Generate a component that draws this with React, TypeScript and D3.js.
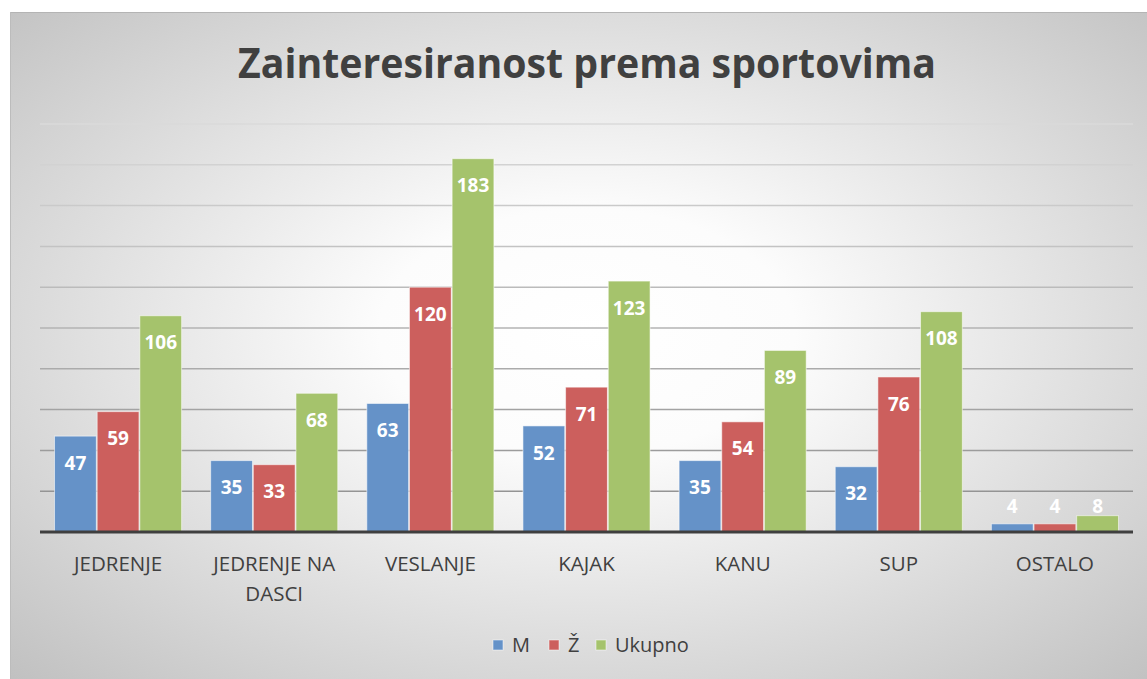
import React from "react";
import * as d3 from "d3";

// podaci
const categories = ["JEDRENJE", "JEDRENJE NA DASCI", "VESLANJE", "KAJAK", "KANU", "SUP", "OSTALO"];
const seriesNames = ["M", "Ž", "Ukupno"];
const valuesM = [47, 35, 63, 52, 35, 32, 4];
const valuesZ = [59, 33, 120, 71, 54, 76, 4];
const valuesUkupno = [106, 68, 183, 123, 89, 108, 8];
const yTicks = [0, 20, 40, 60, 80, 100, 120, 140, 160, 180, 200];

const colors = ["#6592c8", "#cc5f5d", "#a5c36c"];
const W = 1147;
const H = 679;
const font = "'Open Sans', 'DejaVu Sans', sans-serif";

const wrapLabel = (s: string) => {
  if (s.length <= 12) return [s];
  const i = s.lastIndexOf(" ");
  return [s.slice(0, i), s.slice(i + 1)];
};

const App = () => {
  const series = [valuesM, valuesZ, valuesUkupno];
  const x0 = d3.scaleBand<string>().domain(categories).range([40, 1133]).padding(0);
  const bw = x0.bandwidth();
  const x1 = d3
    .scaleBand<string>()
    .domain(seriesNames)
    .range([bw * 0.093, bw * 0.907])
    .paddingInner(0.02);
  const y = d3.scaleLinear().domain([0, 200]).range([532, 124]);
  const gridColor = d3.scaleLinear<string>().domain([200, 0]).range(["#dadada", "#8c8c8c"]);

  const legendX = [493, 549, 596];

  return (
    <svg width={W} height={H} style={{ position: "absolute", left: 0, top: 0 }} fontFamily={font}>
      <defs>
        <radialGradient id="bg" cx="0.5" cy="0.47" r="0.72">
          <stop offset="0" stopColor="#ffffff" />
          <stop offset="0.25" stopColor="#fcfcfc" />
          <stop offset="1" stopColor="#c0c0c0" />
        </radialGradient>
      </defs>
      <rect x={0} y={0} width={W} height={H} fill="#ffffff" />
      <rect x={10} y={12} width={1154} height={680} fill="url(#bg)" />
      <line x1={10} x2={W} y1={12.5} y2={12.5} stroke="#b4b4b4" strokeWidth={1} />
      <line x1={10.5} x2={10.5} y1={12} y2={H} stroke="#bcbcbc" strokeWidth={1} />

      <text x={587} y={78} textAnchor="middle" fontSize={41} fontWeight="bold" fill="#404040"
        textLength={698} lengthAdjust="spacingAndGlyphs">
        Zainteresiranost prema sportovima
      </text>

      {yTicks.filter(t => t > 0).map(t => (
        <line key={t} x1={40} x2={1133} y1={y(t)} y2={y(t)} stroke={gridColor(t)} strokeWidth={1.5} />
      ))}

      {categories.map((c, i) => (
        <g key={c} transform={`translate(${x0(c)},0)`}>
          {series.map((vals, s) => {
            const v = vals[i];
            const bx = x1(seriesNames[s])!;
            const top = y(v);
            const ly = Math.min(top + 27, 506);
            return (
              <g key={s}>
                <rect x={bx} y={top} width={x1.bandwidth()} height={532 - top}
                  fill={colors[s]} stroke="#ffffff" strokeOpacity={0.55} strokeWidth={1} />
                <text x={bx + x1.bandwidth() / 2} y={ly} dy="0.35em" textAnchor="middle"
                  fontSize={19} fontWeight="bold" fill="#ffffff">{v}</text>
              </g>
            );
          })}
          {wrapLabel(c).map((line, k) => (
            <text key={k} x={bw / 2} y={571 + k * 30} textAnchor="middle" fontSize={20.5} fill="#404040">
              {line}
            </text>
          ))}
        </g>
      ))}

      <line x1={40} x2={1133} y1={y(0)} y2={y(0)} stroke="#3f3f3f" strokeWidth={3} />

      {seriesNames.map((n, s) => (
        <g key={n}>
          <rect x={legendX[s]} y={640} width={10} height={10} fill={colors[s]} stroke="#ffffff" strokeOpacity={0.5} />
          <text x={legendX[s] + 19} y={652} fontSize={20} fill="#404040">{n}</text>
        </g>
      ))}
    </svg>
  );
};

export default App;
